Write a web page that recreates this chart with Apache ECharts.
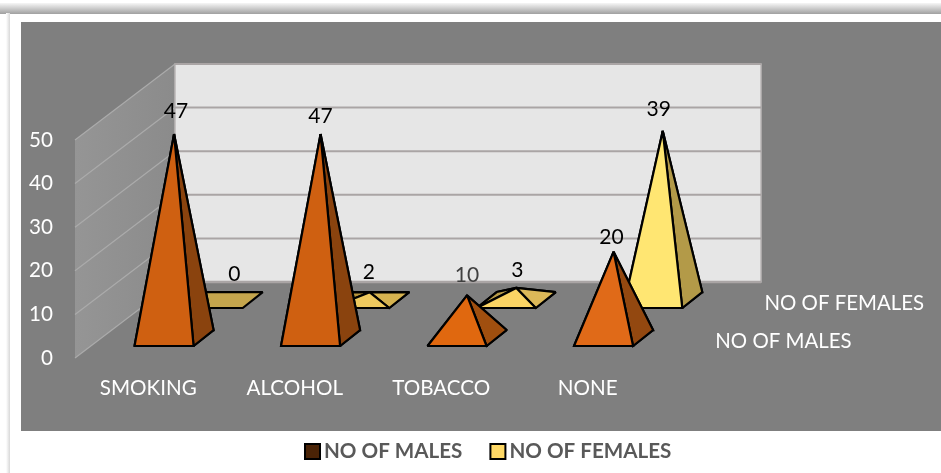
<!DOCTYPE html>
<html><head><meta charset="utf-8">
<style>html,body{margin:0;padding:0;background:#fff}#c{width:941px;height:473px}</style>
<script src="https://cdn.jsdelivr.net/npm/echarts@6/dist/echarts.min.js"></script>
</head><body><div id="c"></div>
<script>
const categories = ['SMOKING','ALCOHOL','TOBACCO','NONE'];
const males = [47,47,10,20];
const females = [0,2,3,39];
const valueTicks = [0,10,20,30,40,50];
const seriesNames = ['NO OF MALES','NO OF FEMALES'];

const FONT = 'Lato, "Open Sans", sans-serif';
const DEPTH_X = 100, DEPTH_Y = -76;
const maleStyle = {dx:[0.158,0.358], dy:[0.158,0.368],
  front:['#cf6011','#cf6011','#e0680f','#e06a18'], side:['#8a430e','#8a430e','#a04f0f','#934810'], left:['#8a430e','#8a430e','#a04f0f','#934810']};
const femaleStyle = {dx:[0.65,0.85], dy:[0.658,0.868],
  front:['#c4a54d','#eec95f','#fbd464','#ffe672'], side:['#c4a54d','#d6b350','#dcb858','#b39a48'], left:['#c4a54d','#b8953c','#b89c4a','#b39a48']};
const maleLabelShift = [[2,-23],[0,-18],[0,-20],[-2,-15]];
const femaleLabelShift = [[11,-27],[-1,-20],[1,-18],[-4,-22]];
const maleLabelColor = ['#000','#000','#404040','#000'];
const femaleLabelColor = ['#000','#000','#000','#000'];

function wallItem(params, api){
  const cs = params.coordSys;
  const L = cs.x, R = cs.x + cs.width;
  const y0 = api.coord([0,0])[1], yT = api.coord([0,valueTicks[valueTicks.length-1]])[1];
  const kids = [];
  kids.push({type:'polygon',shape:{points:[[L,y0],[L+DEPTH_X,y0+DEPTH_Y],[L+DEPTH_X,yT+DEPTH_Y],[L,yT]]},
    style:{fill:{type:'linear',x:0,y:0,x2:1,y2:0,colorStops:[{offset:0,color:'#959595'},{offset:1,color:'#8b8b8b'}]},stroke:null}});
  kids.push({type:'rect',shape:{x:L+DEPTH_X,y:yT+DEPTH_Y,width:R-L,height:y0-yT},
    style:{fill:'#e6e6e6',stroke:'#bbb7b7',lineWidth:1.5}});
  valueTicks.forEach(v=>{
    const y = api.coord([0,v])[1];
    kids.push({type:'line',shape:{x1:L,y1:y,x2:L+DEPTH_X,y2:y+DEPTH_Y},style:{stroke:'#ababab',lineWidth:1.2}});
    kids.push({type:'line',shape:{x1:L+DEPTH_X,y1:y+DEPTH_Y,x2:R+DEPTH_X,y2:y+DEPTH_Y},
      style:{stroke:'#aaa5a5',lineWidth:v===0?2.5:2}});
  });
  [[maleStyle,0],[femaleStyle,1]].forEach(([st,i])=>{
    const mx=(st.dx[0]+st.dx[1])/2, my=(st.dy[0]+st.dy[1])/2;
    kids.push({type:'text',style:{text:seriesNames[i],x:R+mx*DEPTH_X+28.5,y:y0+my*DEPTH_Y+3,
      fill:'#fff',font:'20.4px '+FONT,align:'left',verticalAlign:'middle'}});
  });
  return {type:'group',children:kids};
}

function pyramidItem(st, shifts, colors){
  return function(params, api){
    const i = api.value(0), v = api.value(1);
    const p0 = api.coord([i,0]), pv = api.coord([i,v]);
    const half = api.size([1,0])[0]*0.2015;
    const P = (sx,k)=>[p0[0]+sx*half+st.dx[k]*DEPTH_X, p0[1]+st.dy[k]*DEPTH_Y];
    const FL=P(-1,0), FR=P(1,0), BR=P(1,1), BL=P(-1,1);
    const A=[p0[0]+(st.dx[0]+st.dx[1])/2*DEPTH_X, pv[1]+(st.dy[0]+st.dy[1])/2*DEPTH_Y+1];
    const base={stroke:'#000',lineWidth:2.2,lineJoin:'miter',miterLimit:2};
    const f=(pts,fill)=>({type:'polygon',shape:{points:pts},style:Object.assign({fill},base)});
    const kids=[ f([BL,BR,FR,FL],st.side[i]) ];
    if(v>0){
      kids.push(
        f([BL,BR,A],st.side[i]),
        f([FL,BL,A],st.left[i]),
        f([FR,BR,A],st.side[i]),
        f([FL,FR,A],st.front[i])
      );
    }
    kids.push({type:'text',style:{text:String(v),x:A[0]+shifts[i][0],y:A[1]+shifts[i][1],fill:colors[i],
      font:'21px '+FONT,align:'center',verticalAlign:'middle'}});
    return {type:'group',children:kids};
  };
}

const chart = echarts.init(document.getElementById('c'),null,{renderer:'canvas'});
chart.setOption({
  animation:false,
  backgroundColor:'#ffffff',
  graphic:[
    {type:'rect',z:-5,shape:{x:0,y:3,width:941,height:11},style:{fill:{type:'linear',x:0,y:0,x2:0,y2:1,colorStops:[{offset:0,color:'#f6f6f6'},{offset:1,color:'#a0a0a0'}]}}},
    {type:'rect',z:-5,shape:{x:6,y:13,width:4,height:460},style:{fill:{type:'linear',x:0,y:0,x2:1,y2:0,colorStops:[{offset:0,color:'#ffffff'},{offset:1,color:'#d8d8d8'}]}}},
    {type:'rect',z:-4,shape:{x:21,y:22,width:920,height:409},style:{fill:'#7f7f7f'}}
  ],
  legend:{
    show:true,selectedMode:false,left:299,top:436,itemWidth:15,itemHeight:15,itemGap:27,icon:'rect',
    textStyle:{color:'#595959',fontWeight:'bold',fontSize:20.6,fontFamily:FONT,padding:[0,0,0,-1]},
    data:[
      {name:seriesNames[0],itemStyle:{color:'#4a2306',borderColor:'#000',borderWidth:2}},
      {name:seriesNames[1],itemStyle:{color:'#ffd966',borderColor:'#000',borderWidth:2}}
    ]
  },
  grid:{left:75,top:140,width:586,height:218,containLabel:false},
  xAxis:{type:'category',data:categories,axisLine:{show:false},axisTick:{show:false},
    axisLabel:{color:'#fff',fontSize:20.6,fontFamily:FONT,margin:20},splitLine:{show:false}},
  yAxis:{type:'value',min:0,max:50,interval:10,axisLine:{show:false},axisTick:{show:false},
    axisLabel:{color:'#fff',fontSize:20.6,fontFamily:FONT,margin:22},splitLine:{show:false}},
  series:[
    {type:'custom',name:'walls',silent:true,renderItem:wallItem,data:[[0,0]],encode:{x:0,y:1},z:1},
    {type:'custom',name:seriesNames[1],renderItem:pyramidItem(femaleStyle,femaleLabelShift,femaleLabelColor),
      data:females.map((v,i)=>[i,v]),encode:{x:0,y:1},z:2,itemStyle:{color:'#ffd966'}},
    {type:'custom',name:seriesNames[0],renderItem:pyramidItem(maleStyle,maleLabelShift,maleLabelColor),
      data:males.map((v,i)=>[i,v]),encode:{x:0,y:1},z:3,itemStyle:{color:'#4a2306'}}
  ]
});
</script></body></html>
